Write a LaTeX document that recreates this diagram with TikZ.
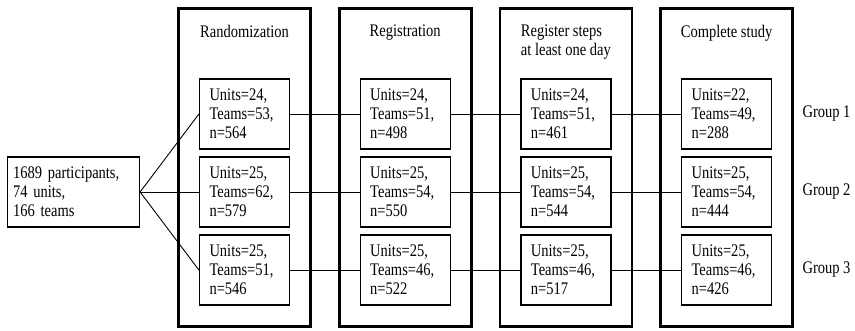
\documentclass[tikz,border=0pt]{standalone}
\usepackage{fontspec}
\setmainfont[FakeStretch=0.82]{Liberation Serif}
\usetikzlibrary{positioning}

\begin{document}
\begin{tikzpicture}[x=1pt, y=-1pt,
	txt/.style={font=\fontsize{17.7}{19}\selectfont},
	stage/.style={draw, line width=2.6pt, minimum width=132pt, minimum height=318pt, inner sep=0pt},
	cell/.style={draw, line width=1.2pt, txt, align=left, text width=70pt, inner xsep=10pt, inner ysep=0pt, minimum height=70pt, fill=white},
	link/.style={line width=0.9pt}]
	\useasboundingbox (0,0) rectangle (855,330);
	% Stages
	\foreach \i/\name in {1/Randomization, 2/Registration, 3/{Register steps\\at least one day}, 4/Complete study} {
		\node[stage] (f\i) at ({244.5+160.7*(\i-1)},167.5) {};
		\node[txt, align=left, anchor=north, inner sep=0pt] (h\i) at ({244.5+160.7*(\i-1)},25) {\name};
	}
	% Start
	\node[cell, text width=121pt, inner xsep=5.5pt] (start) at (73.5,192) {1689 participants,\\74 units,\\166 teams};
	% Groups per stage
	\foreach \col/\row/\units/\teams/\num in {1/1/24/53/564, 1/2/25/62/579, 1/3/25/51/546,
		2/1/24/51/498, 2/2/25/54/550, 2/3/25/46/522,
		3/1/24/51/461, 3/2/25/54/544, 3/3/25/46/517,
		4/1/22/49/288, 4/2/25/54/444, 4/3/25/46/426}
		\node[cell] (b\col\row) at ({244.5+160.7*(\col-1)},{114+78*(\row-1)}) {Units=\units,\\Teams=\teams,\\n=\num};
	\foreach \row in {1,2,3} {
		\node[txt, anchor=west] (g\row) at (799,{114+78*(\row-1)}) {Group \row};
		\draw[link] (start.east) -- (b1\row.west);
	}
	% Links
	\foreach \col/\next in {1/2, 2/3, 3/4}
		\foreach \row in {1,2,3}
			\draw[link] (b\col\row.east) -- (b\next\row.west);
\end{tikzpicture}
\end{document}
